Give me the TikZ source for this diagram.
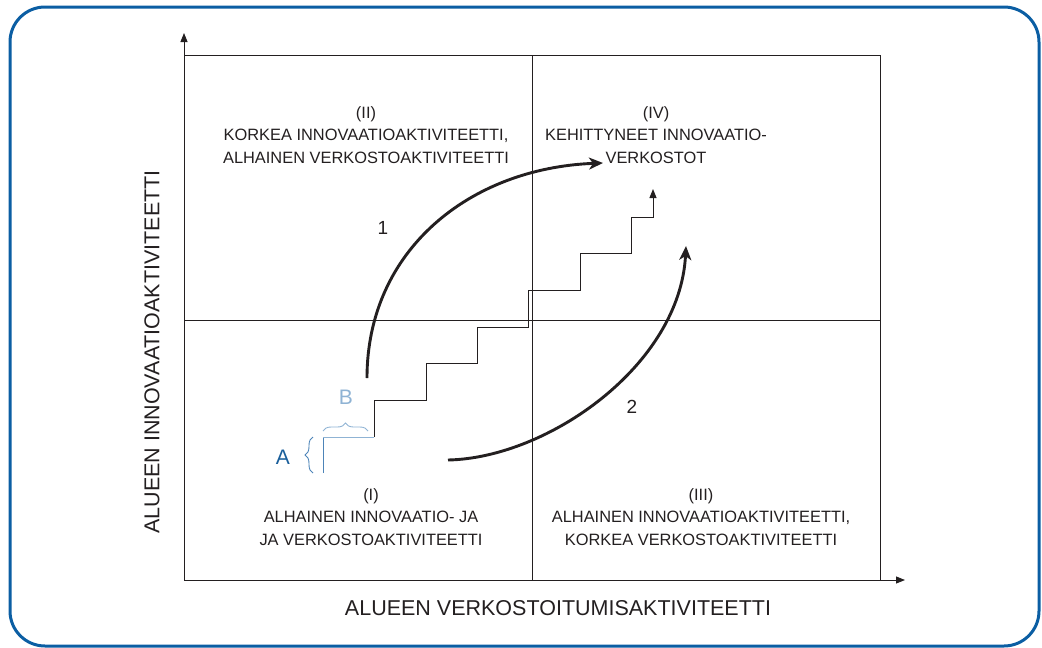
\documentclass[tikz,border=0pt]{standalone}
\usepackage{fontspec}
\setmainfont{Liberation Sans}
\usetikzlibrary{arrows.meta,decorations.pathreplacing}
\definecolor{frameblue}{HTML}{0B5EA3}
\definecolor{txt}{HTML}{231F20}
\definecolor{adark}{HTML}{1A5F9B}
\definecolor{amid}{HTML}{4D84B8}
\definecolor{blight}{HTML}{8FB3D4}
\tikzset{
  gridline/.style={draw=txt, line width=0.9pt},
  axisline/.style={draw=txt, line width=0.9pt, -{Triangle[length=9pt,width=7pt]}},
  stairline/.style={draw=txt, line width=1pt},
  bigarc/.style={draw=txt, line width=2.9pt, -{Stealth[length=14pt,width=12pt,inset=4pt]}},
  quadtext/.style={text=txt, align=center, inner sep=0pt, font=\fontsize{16.4}{22.5}\selectfont},
  numtext/.style={text=txt, inner sep=0pt, font=\fontsize{19}{22}\selectfont},
  axistext/.style={text=txt, inner sep=0pt, font=\fontsize{21.5}{24}\selectfont},
}
\begin{document}
\begin{tikzpicture}[x=1pt,y=-1pt]
\useasboundingbox (0,0) rectangle (1042,648);
% frame
\draw[frameblue, line width=3pt, rounded corners=35pt] (10,7) rectangle (1039,646);
% grid
\coordinate (o) at (184,580);
\coordinate (ytop) at (184,33);
\coordinate (xend) at (905,580);
\draw[gridline] (184,55) -- (880,55) -- (880,580);
\draw[gridline] (532,55) -- (532,580);
\draw[gridline] (184,320) -- (880,320);
\draw[axisline] (o) -- (ytop);
\draw[axisline] (o) -- (xend);
% staircase
\coordinate (s0) at (323,473);
\coordinate (s1) at (323,437);
\coordinate (s2) at (374,437);
\coordinate (s3) at (374,400);
\coordinate (s4) at (426,400);
\coordinate (s5) at (426,363);
\coordinate (s6) at (477,363);
\coordinate (s7) at (477,327);
\coordinate (s8) at (528,327);
\coordinate (s9) at (528,290);
\coordinate (s10) at (580,290);
\coordinate (s11) at (580,253);
\coordinate (s12) at (631,253);
\coordinate (s13) at (631,217);
\coordinate (s14) at (653,217);
\coordinate (s15) at (653,189);
\draw[amid, line width=1pt] (s0) -- (s1);
\draw[blight, line width=1pt] (s1) -- (s2);
\draw[stairline, -{Triangle[length=9pt,width=7pt]}] (s2) -- (s3) -- (s4) -- (s5) -- (s6) -- (s7) -- (s8) -- (s9) -- (s10) -- (s11) -- (s12) -- (s13) -- (s14) -- (s15);
% braces
\draw[amid, line width=0.9pt, decorate, decoration={brace, amplitude=8pt}] (313,473) -- (313,437);
\draw[blight, line width=0.9pt, decorate, decoration={brace, amplitude=8pt}] (323,431) -- (368,431);
\node[text=adark, inner sep=0pt, font=\fontsize{21}{24}\selectfont] (la) at (283,457) {A};
\node[text=blight, inner sep=0pt, font=\fontsize{21}{24}\selectfont] (lb) at (346,397) {B};
% arcs
\coordinate (a1s) at (367,378);
\coordinate (a1e) at (603,163);
\coordinate (a2s) at (448,460);
\coordinate (a2e) at (686,246);
\draw[bigarc] (a1s) .. controls (367,250) and (470,168) .. (a1e);
\draw[bigarc] (a2s) .. controls (548,458) and (680,365) .. (a2e);
\node[numtext] (n1) at (383,228) {1};
\node[numtext] (n2) at (632,407) {2};
% quadrant texts
\node[quadtext] (q2) at (366,135) {(II)\\KORKEA INNOVAATIOAKTIVITEETTI,\\ALHAINEN VERKOSTOAKTIVITEETTI};
\node[quadtext] (q4) at (656,135) {(IV)\\KEHITTYNEET INNOVAATIO-\\VERKOSTOT};
\node[quadtext] (q1) at (371,517) {(I)\\ALHAINEN INNOVAATIO- JA\\JA VERKOSTOAKTIVITEETTI};
\node[quadtext] (q3) at (701,517) {(III)\\ALHAINEN INNOVAATIOAKTIVITEETTI,\\KORKEA VERKOSTOAKTIVITEETTI};
% axis labels
\node[axistext] (xl) at (558,608) {ALUEEN VERKOSTOITUMISAKTIVITEETTI};
\node[axistext, rotate=90] (yl) at (152,352) {ALUEEN INNOVAATIOAKTIVITEETTI};
\end{tikzpicture}
\end{document}
